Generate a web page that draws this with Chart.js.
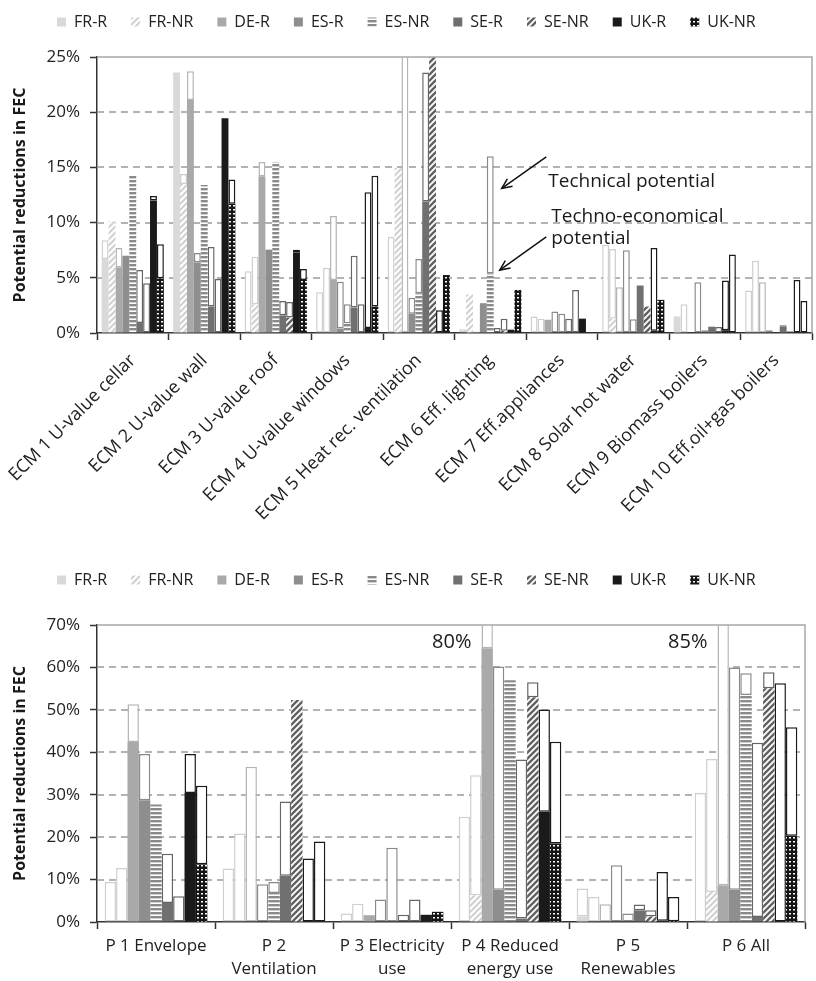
<!DOCTYPE html>
<html><head><meta charset="utf-8">
<script src="https://cdn.jsdelivr.net/npm/chart.js@4.4.1/dist/chart.umd.min.js"></script>
<style>
html,body{margin:0;padding:0;width:816px;height:981px;overflow:hidden;background:#fff}
.w{position:absolute;left:0;width:816px}
</style></head>
<body>
<div class="w" style="top:0;height:560px"><canvas id="c1" width="816" height="560"></canvas></div>
<div class="w" style="top:560px;height:440px"><canvas id="c2" width="816" height="440"></canvas></div>
<script>
// ---------- DATA ----------
const seriesNames = ['FR-R','FR-NR','DE-R','ES-R','ES-NR','SE-R','SE-NR','UK-R','UK-NR'];
const ecmLabels = ['ECM 1 U-value cellar','ECM 2 U-value wall','ECM 3 U-value roof','ECM 4 U-value windows','ECM 5 Heat rec. ventilation','ECM 6 Eff. lighting','ECM 7 Eff.appliances','ECM 8 Solar hot water','ECM 9 Biomass boilers','ECM 10 Eff.oil+gas boilers'];
const pkgLabels = [['P 1 Envelope'],['P 2','Ventilation'],['P 3 Electricity','use'],['P 4 Reduced','energy use'],['P 5','Renewables'],['P 6 All']];
const ecmTicks = [0,5,10,15,20,25];
const pkgTicks = [0,10,20,30,40,50,60,70];

// ECM chart: technical potential (outline) and techno-economical potential (filled), % of FEC
const ecmTech_FR_R  = [8.4, 23.6, 5.6, 3.7, 8.7, 0.35, 1.5, 8.0, 1.5, 3.85];
const ecmEcon_FR_R  = [6.7, 23.6, 0, 0, 0, 0, 0, 0, 1.5, 0];
const ecmTech_FR_NR = [10.1, 14.4, 6.9, 5.9, 14.95, 3.5, 1.3, 7.6, 2.6, 6.55];
const ecmEcon_FR_NR = [10.1, 13.5, 2.6, 0, 14.95, 3.5, 0, 1.3, 0, 0];
const ecmTech_DE_R  = [7.7, 23.7, 15.5, 10.6, 30, 0.1, 1.2, 4.15, 0, 4.6];
const ecmEcon_DE_R  = [5.95, 21.1, 14.2, 4.8, 0, 0.1, 1.2, 0, 0, 0];
const ecmTech_ES_R  = [7.0, 7.25, 7.55, 4.65, 3.2, 2.7, 1.95, 7.5, 4.6, 0.25];
const ecmEcon_ES_R  = [7.0, 6.4, 7.55, 0.4, 1.75, 2.7, 0, 0, 0, 0];
const ecmTech_ES_NR = [14.3, 13.4, 15.5, 2.6, 6.7, 16.0, 1.75, 1.25, 0.25, 0];
const ecmEcon_ES_NR = [14.3, 13.4, 15.5, 0.85, 3.6, 5.4, 0, 0, 0, 0];
const ecmTech_SE_R  = [5.7, 7.8, 2.9, 7.0, 23.6, 0.45, 1.3, 4.3, 0.6, 0.7];
const ecmEcon_SE_R  = [0.9, 2.4, 1.6, 2.3, 11.9, 0, 0, 4.3, 0.55, 0.6];
const ecmTech_SE_NR = [4.5, 4.9, 2.8, 2.6, 27, 1.3, 3.9, 2.4, 0.55, 0.15];
const ecmEcon_SE_NR = [0, 0, 1.4, 0, 27, 0.2, 0, 2.4, 0, 0];
const ecmTech_UK_R  = [12.4, 19.45, 7.55, 12.75, 2.05, 0.3, 1.3, 7.7, 4.75, 4.8];
const ecmEcon_UK_R  = [12.0, 19.45, 7.3, 0.45, 0, 0.3, 1.3, 0.2, 0.25, 0];
const ecmTech_UK_NR = [8.05, 13.9, 5.8, 14.25, 5.25, 3.9, 0, 3.0, 7.1, 2.9];
const ecmEcon_UK_NR = [4.95, 11.7, 4.8, 2.4, 5.25, 3.9, 0, 3.0, 0, 0];

// Package chart
const pkgTech_FR_R  = [9.45, 12.6, 2.0, 24.8, 7.9, 30.45];
const pkgEcon_FR_R  = [0, 0, 0, 0, 1.3, 0];
const pkgTech_FR_NR = [12.75, 20.85, 4.3, 34.6, 5.9, 38.4];
const pkgEcon_FR_NR = [0, 0, 0, 6.3, 0, 7.1];
const pkgTech_DE_R  = [51.3, 36.6, 1.6, 80, 4.2, 85];
const pkgEcon_DE_R  = [42.4, 0, 1.6, 64.5, 0, 8.65];
const pkgTech_ES_R  = [39.6, 8.9, 5.3, 60.2, 13.4, 60.0];
const pkgEcon_ES_R  = [28.7, 0, 0, 7.6, 0, 7.6];
const pkgTech_ES_NR = [27.7, 9.45, 17.5, 57.0, 2.0, 58.6];
const pkgEcon_ES_NR = [27.7, 6.85, 0, 57.0, 0, 53.5];
const pkgTech_SE_R  = [16.1, 28.4, 1.7, 38.3, 4.1, 42.25];
const pkgEcon_SE_R  = [4.5, 10.9, 0, 0.8, 2.75, 1.2];
const pkgTech_SE_NR = [6.05, 52.3, 5.3, 56.5, 2.75, 58.85];
const pkgEcon_SE_NR = [0, 52.3, 0, 52.95, 1.3, 55.1];
const pkgTech_UK_R  = [39.6, 14.95, 1.7, 50.1, 11.8, 56.25];
const pkgEcon_UK_R  = [30.4, 0, 1.7, 26.0, 0.3, 0];
const pkgTech_UK_NR = [32.1, 19.0, 2.4, 42.5, 5.9, 45.9];
const pkgEcon_UK_NR = [13.6, 0, 2.4, 18.5, 0.2, 20.3];

// Off-scale annotations in package chart
const offScaleNotes = [{cat: 3, series: 2, text: '80%'}, {cat: 5, series: 2, text: '85%'}];

// ---------- STYLE ----------
const FONT = "'Open Sans', 'Liberation Sans', sans-serif";
function makePattern(w, h, draw) {
  const c = document.createElement('canvas'); c.width = w; c.height = h;
  const x = c.getContext('2d'); draw(x, w, h);
  return x.createPattern(c, 'repeat');
}
function diagPattern(bg, fg, lw) {
  return makePattern(6, 6, (x, w, h) => {
    x.fillStyle = bg; x.fillRect(0, 0, w, h);
    x.strokeStyle = fg; x.lineWidth = lw; x.lineCap = 'square';
    x.beginPath();
    x.moveTo(-1, 7); x.lineTo(7, -1);
    x.moveTo(-1, 1); x.lineTo(1, -1);
    x.moveTo(5, 7); x.lineTo(7, 5);
    x.stroke();
  });
}
const hStripe = makePattern(4, 4, (x) => { x.fillStyle = '#fff'; x.fillRect(0, 0, 4, 4); x.fillStyle = '#8a8a8a'; x.fillRect(0, 0, 4, 2.4); });
const dotPat = makePattern(4, 4, (x) => { x.fillStyle = '#151515'; x.fillRect(0, 0, 4, 4); x.fillStyle = '#fff'; x.fillRect(1, 1, 2, 1.5); });
const fills = ['#d9d9d9', diagPattern('#fff', '#d0d0d0', 2), '#a9a9a9', '#8e8e8e', hStripe, '#707070', diagPattern('#fff', '#626262', 2.4), '#1a1a1a', dotPat];
const outlines = ['#cfcfcf', '#cfcfcf', '#b5b5b5', '#8a8a8a', '#8a8a8a', '#666666', '#666666', '#1a1a1a', '#1a1a1a'];

function buildDatasets(techArr, econArr) {
  const ds = [];
  econArr.forEach((e, i) => ds.push({label: seriesNames[i], data: e, backgroundColor: fills[i], borderWidth: 0, stack: 's' + i}));
  techArr.forEach((t, i) => ds.push({
    label: seriesNames[i] + ' technical', data: t.map((v, j) => Math.max(v - econArr[i][j], 0)),
    backgroundColor: '#ffffff', borderColor: outlines[i], borderWidth: 1.5, borderSkipped: false, stack: 's' + i
  }));
  return ds;
}

const gridFrame = {
  id: 'gridFrame',
  beforeDatasetsDraw(chart) {
    const {ctx, chartArea: a, scales: {y}} = chart;
    ctx.save(); ctx.strokeStyle = '#9a9a9a'; ctx.lineWidth = 1.5; ctx.setLineDash([7, 5]);
    y.ticks.forEach(t => {
      if (t.value <= y.min || t.value >= y.max) return;
      const py = Math.round(y.getPixelForValue(t.value));
      ctx.beginPath(); ctx.moveTo(a.left, py); ctx.lineTo(a.right, py); ctx.stroke();
    });
    ctx.restore();
  },
  afterDatasetsDraw(chart) {
    const {ctx, chartArea: a} = chart;
    ctx.save(); ctx.strokeStyle = '#a8a8a8'; ctx.lineWidth = 1.5;
    ctx.beginPath(); ctx.moveTo(a.left, a.top); ctx.lineTo(a.right, a.top); ctx.lineTo(a.right, a.bottom); ctx.stroke();
    ctx.restore();
  }
};

function legendPlace(startX, centerY, height) {
  return {
    id: 'legendPlace',
    beforeLayout(chart) {
      const lg = chart.legend;
      if (lg && !lg._fx) { const f = lg.fit; lg.fit = function () { f.call(this); this.height = height; }; lg._fx = true; }
    },
    afterLayout(chart) {
      const lg = chart.legend; const p = lg.options.labels.padding; const fs = lg.options.labels.font.size;
      const w = lg.right - lg.left; lg.left = startX - p; lg.right = lg.left + w;
      const h = lg.bottom - lg.top; lg.top = centerY - p - fs / 2; lg.bottom = lg.top + h;
    }
  };
}

function arrow(ctx, x1, y1, x2, y2) {
  ctx.beginPath(); ctx.moveTo(x1, y1); ctx.lineTo(x2, y2); ctx.stroke();
  const ang = Math.atan2(y2 - y1, x2 - x1), L = 11, s = 0.42;
  ctx.beginPath();
  ctx.moveTo(x2 - L * Math.cos(ang - s), y2 - L * Math.sin(ang - s));
  ctx.lineTo(x2, y2);
  ctx.lineTo(x2 - L * Math.cos(ang + s), y2 - L * Math.sin(ang + s));
  ctx.stroke();
}

const annotTop = {
  id: 'annotTop',
  afterDraw(chart) {
    const {ctx, scales: {y}} = chart;
    const el = chart.getDatasetMeta(4).data[5];
    const cx = el.x;
    ctx.save();
    ctx.strokeStyle = '#111'; ctx.lineWidth = 1.5;
    arrow(ctx, cx + 56, y.getPixelForValue(15.95), cx + 11.5, y.getPixelForValue(13.1));
    arrow(ctx, cx + 56, y.getPixelForValue(8.7), cx + 9.5, y.getPixelForValue(5.7));
    ctx.fillStyle = '#1a1a1a'; ctx.font = "19px " + FONT; ctx.textAlign = 'left'; ctx.textBaseline = 'alphabetic';
    ctx.fillText('Technical potential', cx + 58, y.getPixelForValue(13.2));
    ctx.fillText('Techno-economical', cx + 61, y.getPixelForValue(10.05));
    ctx.fillText('potential', cx + 61, y.getPixelForValue(8.05));
    ctx.restore();
  }
};

const annotBottom = {
  id: 'annotBottom',
  afterDraw(chart) {
    const {ctx, chartArea: a} = chart;
    ctx.save(); ctx.fillStyle = '#1a1a1a'; ctx.font = "20px " + FONT; ctx.textAlign = 'right'; ctx.textBaseline = 'alphabetic';
    offScaleNotes.forEach(n => {
      const el = chart.getDatasetMeta(n.series).data[n.cat];
      ctx.fillText(n.text, el.x - el.width / 2 - 10, a.top + 23);
    });
    ctx.restore();
  }
};

function makeChart(canvas, labels, techArr, econArr, ticks, cfg) {
  return new Chart(canvas, {
    type: 'bar',
    data: {labels, datasets: buildDatasets(techArr, econArr)},
    plugins: [gridFrame, legendPlace(cfg.legendX, cfg.legendY, cfg.legendH)].concat(cfg.extra),
    options: {
      responsive: false, animation: false,
      layout: {padding: {left: 0, right: cfg.padRight, top: 0, bottom: 0}},
      datasets: {bar: {barPercentage: 1.0, categoryPercentage: 0.87}},
      plugins: {
        legend: {
          display: true, position: 'top', align: 'start',
          labels: {boxWidth: 9, boxHeight: 9, padding: 24, color: '#222', font: {family: FONT, size: 16},
                   filter: (item) => item.datasetIndex < seriesNames.length}
        },
        tooltip: {enabled: false}
      },
      scales: {
        x: {
          stacked: true,
          grid: {offset: true, drawOnChartArea: false, drawTicks: true, tickLength: 7, tickColor: '#333', tickWidth: 1.5},
          border: {color: '#333', width: 1.5},
          ticks: {autoSkip: false, maxRotation: cfg.rot, minRotation: cfg.rot, padding: cfg.xPad, color: '#222',
                  font: {family: FONT, size: cfg.xFont, lineHeight: 1.35}},
          afterFit: (s) => { s.height = cfg.xHeight; s.paddingLeft = 0; s.paddingRight = 0; }
        },
        y: {
          stacked: true, min: 0, max: ticks[ticks.length - 1],
          afterBuildTicks: (s) => { s.ticks = ticks.map(v => ({value: v})); },
          grid: {drawOnChartArea: false, drawTicks: true, tickLength: 7, tickColor: '#333', tickWidth: 1.5},
          border: {color: '#333', width: 1.5},
          ticks: {padding: 10, color: '#222', font: {family: FONT, size: 17}, callback: (v) => v + '%'},
          title: {display: true, text: 'Potential reductions in FEC', color: '#1a1a1a', font: {family: FONT, size: 16, weight: 'bold'}, padding: {top: 11, bottom: 0}},
          afterFit: (s) => { s.width = 97; }
        }
      }
    }
  });
}

makeChart(document.getElementById('c1'), ecmLabels,
  [ecmTech_FR_R, ecmTech_FR_NR, ecmTech_DE_R, ecmTech_ES_R, ecmTech_ES_NR, ecmTech_SE_R, ecmTech_SE_NR, ecmTech_UK_R, ecmTech_UK_NR],
  [ecmEcon_FR_R, ecmEcon_FR_NR, ecmEcon_DE_R, ecmEcon_ES_R, ecmEcon_ES_NR, ecmEcon_SE_R, ecmEcon_SE_NR, ecmEcon_UK_R, ecmEcon_UK_NR],
  ecmTicks, {legendX: 57, legendY: 22, legendH: 57, padRight: 4, rot: 45, xPad: 9, xFont: 18, xHeight: 227, extra: [annotTop]});

makeChart(document.getElementById('c2'), pkgLabels,
  [pkgTech_FR_R, pkgTech_FR_NR, pkgTech_DE_R, pkgTech_ES_R, pkgTech_ES_NR, pkgTech_SE_R, pkgTech_SE_NR, pkgTech_UK_R, pkgTech_UK_NR],
  [pkgEcon_FR_R, pkgEcon_FR_NR, pkgEcon_DE_R, pkgEcon_ES_R, pkgEcon_ES_NR, pkgEcon_SE_R, pkgEcon_SE_NR, pkgEcon_UK_R, pkgEcon_UK_NR],
  pkgTicks, {legendX: 57, legendY: 20, legendH: 65, padRight: 11, rot: 0, xPad: 6, xFont: 17, xHeight: 78, extra: [annotBottom]});
</script>
</body></html>
